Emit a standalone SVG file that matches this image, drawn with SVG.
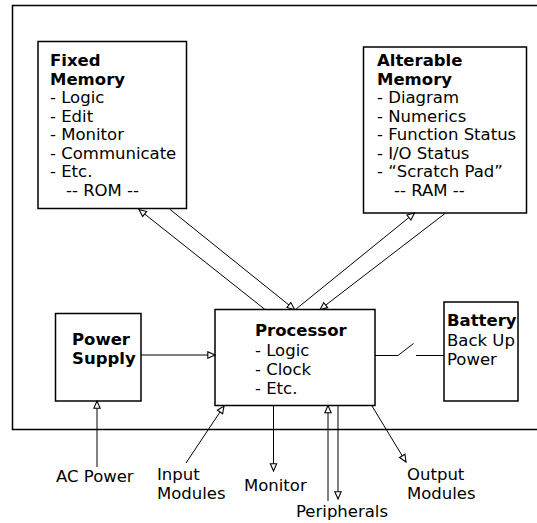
<svg xmlns="http://www.w3.org/2000/svg" width="537" height="523" viewBox="0 0 537 523">
<style>
text{font-family:"DejaVu Sans","Verdana",sans-serif;font-size:16.5px;fill:#000}
.b{font-weight:bold}
.box{fill:#fff;stroke:#000;stroke-width:1.5}
.ln{fill:none;stroke:#000;stroke-width:1}
</style>
<defs>
<marker id="ah" viewBox="0 0 10 10" refX="9" refY="5" markerWidth="9" markerHeight="9" markerUnits="userSpaceOnUse" orient="auto">
<path d="M1,1.5 L9,5 L1,8.5 Z" fill="#fff" stroke="#000" stroke-width="1.2"/>
</marker>
</defs>
<rect x="12.5" y="5.5" width="540" height="424" fill="none" stroke="#000" stroke-width="1.5"/>
<g id="fixed-memory">
<rect class="box" x="38" y="41.5" width="148.5" height="167"/>
<text x="50" y="66" class="b">Fixed</text>
<text x="50" y="85" class="b">Memory</text>
<text x="50" y="103">- Logic</text>
<text x="50" y="122">- Edit</text>
<text x="50" y="140">- Monitor</text>
<text x="50" y="159">- Communicate</text>
<text x="50" y="177">- Etc.</text>
<text x="66" y="196">-- ROM --</text>
</g>
<g id="alterable-memory">
<rect class="box" x="363.5" y="47" width="163" height="166"/>
<text x="377" y="66" class="b">Alterable</text>
<text x="377" y="85" class="b">Memory</text>
<text x="377" y="103">- Diagram</text>
<text x="377" y="122">- Numerics</text>
<text x="377" y="140">- Function Status</text>
<text x="377" y="159">- I/O Status</text>
<text x="377" y="177">- “Scratch Pad”</text>
<text x="394" y="196">-- RAM --</text>
</g>
<g id="processor">
<rect class="box" x="215" y="309.5" width="160" height="96"/>
<text x="255" y="336" class="b">Processor</text>
<text x="255" y="355.5">- Logic</text>
<text x="255" y="374.5">- Clock</text>
<text x="255" y="393.5">- Etc.</text>
</g>
<g id="power-supply">
<rect class="box" x="55.5" y="313.5" width="85.5" height="87.5"/>
<text x="72" y="345" class="b">Power</text>
<text x="72" y="364" class="b">Supply</text>
</g>
<g id="battery">
<rect class="box" x="444" y="302" width="74" height="99"/>
<text x="447" y="326" class="b">Battery</text>
<text x="447" y="346">Back Up</text>
<text x="447" y="365">Power</text>
</g>
<g id="labels">
<text x="56" y="482">AC Power</text>
<text x="157" y="480">Input</text>
<text x="157" y="499">Modules</text>
<text x="244" y="491">Monitor</text>
<text x="296" y="517">Peripherals</text>
<text x="407" y="480">Output</text>
<text x="407" y="499">Modules</text>
</g>
<g id="connectors">
<line class="ln" x1="265" y1="309.5" x2="139" y2="209.5" marker-end="url(#ah)"/>
<line class="ln" x1="169.5" y1="209" x2="294.5" y2="309.5" marker-end="url(#ah)"/>
<line class="ln" x1="295.5" y1="309.5" x2="414.5" y2="213" marker-end="url(#ah)"/>
<line class="ln" x1="445" y1="213.5" x2="320" y2="309.5" marker-end="url(#ah)"/>
<line class="ln" x1="141" y1="355" x2="215" y2="355" marker-end="url(#ah)"/>
<polyline class="ln" points="375,355.5 398,355.5 413.5,343.5"/>
<line class="ln" x1="416" y1="355.5" x2="444" y2="355.5"/>
<line class="ln" x1="97" y1="467" x2="97" y2="401" marker-end="url(#ah)"/>
<line class="ln" x1="186" y1="463" x2="224" y2="406" marker-end="url(#ah)"/>
<line class="ln" x1="273.5" y1="405.5" x2="273.5" y2="471" marker-end="url(#ah)"/>
<line class="ln" x1="328" y1="501" x2="328" y2="405.5" marker-end="url(#ah)"/>
<line class="ln" x1="338" y1="405.5" x2="338" y2="499" marker-end="url(#ah)"/>
<line class="ln" x1="372" y1="406" x2="406" y2="462" marker-end="url(#ah)"/>
</g>
</svg>
